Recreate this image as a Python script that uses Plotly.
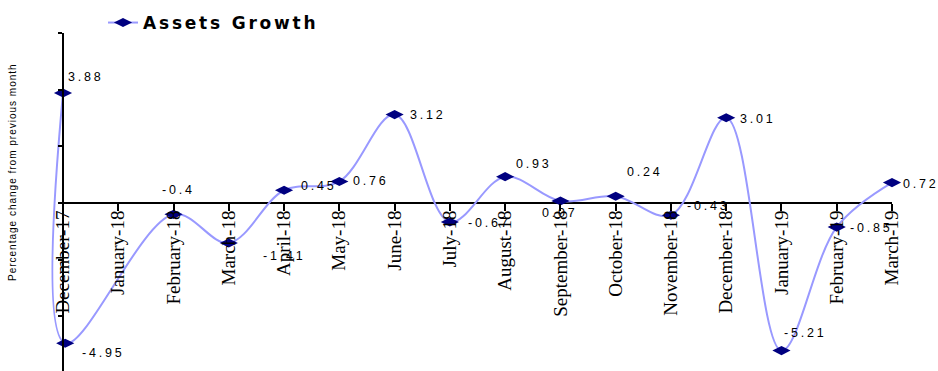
import plotly.graph_objects as go

# ---- data ----
months = ["December-17", "January-18", "February-18", "March-18", "April-18", "May-18",
          "June-18", "July-18", "August-18", "September-18", "October-18", "November-18",
          "December-18", "January-19", "February-19", "March-19"]
# horizontal position (month index) at which each value is drawn in the reference
x_pos = [0, 0.04, 2, 3, 4, 5, 6, 7, 8, 9, 10, 11, 12, 13, 14, 15]
values = [3.88, -4.95, -0.4, -1.41, 0.45, 0.76, 3.12, -0.67, 0.93, 0.07, 0.24, -0.43,
          3.01, -5.21, -0.85, 0.72]
series_name = "Assets Growth"
y_title = "Percentage change from previous month"

# ---- label offsets (px) from each marker: style only ----
label_dx = [3, 15, -14, 32, 15, 12, 13, 16, 9, -20, 9, 14, 12, 1, 11, 9]
label_dy = [16, -10, 24, -13, 4, 0, 0, -1, 13, -12, 24, 9, -1, 18, -1, -1]

W, H = 938, 371
ML, MR, MT, MB = 40, 0, 33, 0
px_per_month = (892 - 63) / 15.0
x_range = [-(63 - ML) / px_per_month, 15 + (W - MR - 892) / px_per_month]
y_top = 6.0
px_per_unit = (203 - MT) / y_top
y_range = [y_top - (H - MT - MB) / px_per_unit, y_top]

xpos_frac = (0 - y_range[0]) / (y_range[1] - y_range[0])
ypos_frac = (0 - x_range[0]) / (x_range[1] - x_range[0])

fig = go.Figure()
fig.add_trace(go.Scatter(
    x=x_pos, y=values, mode="lines+markers",
    name='<span style="letter-spacing:2.8px">' + series_name + '</span>',
    line=dict(color="#9999FF", width=2, shape="spline", smoothing=1.0),
    marker=dict(symbol="diamond-wide", size=13, color="#000080", line=dict(width=0)),
    cliponaxis=False,
))

annotations = []
for xv, yv, dx, dy in zip(x_pos, values, label_dx, label_dy):
    annotations.append(dict(
        x=xv, y=yv, xref="x", yref="y", showarrow=False,
        text='<span style="letter-spacing:2.8px">' + f"{yv:g}" + '</span>',
        xanchor="left", yanchor="middle", xshift=dx, yshift=dy,
        font=dict(family="Liberation Sans, Arial", size=12.5, color="black"),
    ))
annotations.append(dict(
    x=(12 - ML) / (W - ML - MR), y=(H - MB - 172) / (H - MT - MB), xref="paper", yref="paper",
    showarrow=False, textangle=-90, xanchor="center", yanchor="middle",
    text='<span style="letter-spacing:1px">' + y_title + '</span>',
    font=dict(family="Liberation Sans, Arial", size=10, color="black"),
))

fig.update_layout(
    width=W, height=H,
    margin=dict(l=ML, r=MR, t=MT, b=MB, autoexpand=False),
    paper_bgcolor="white", plot_bgcolor="white",
    showlegend=True,
    legend=dict(x=(103 - ML) / (W - ML - MR), y=1 + (MT - 23) / (H - MT - MB),
                xanchor="left", yanchor="middle", bgcolor="rgba(0,0,0,0)",
                font=dict(family="DejaVu Sans", size=17, color="black", weight=700)),
    annotations=annotations,
    shapes=[dict(type="line", xref="x", yref="y", x0=x_pos[0], x1=x_pos[-1], y0=0, y1=0,
                 line=dict(color="black", width=2), layer="below")],
    xaxis=dict(range=x_range, anchor="free", position=xpos_frac,
               tickmode="array", tickvals=list(range(len(months))), ticktext=months,
               tickangle=-90, ticks="outside", ticklen=7, tickwidth=1.5, tickcolor="black",
               tickfont=dict(family="Liberation Serif, Times New Roman", size=19, color="black"),
               ticklabelstandoff=-8,
               showline=False, showgrid=False, zeroline=False, automargin=False),
    yaxis=dict(range=y_range, anchor="free", position=ypos_frac,
               tick0=0, dtick=2, ticks="outside", ticklen=4, tickwidth=1.5, tickcolor="black",
               showticklabels=False, showline=True, linecolor="black", linewidth=2,
               showgrid=False, zeroline=False, automargin=False),
)

fig.write_html("out.html")
